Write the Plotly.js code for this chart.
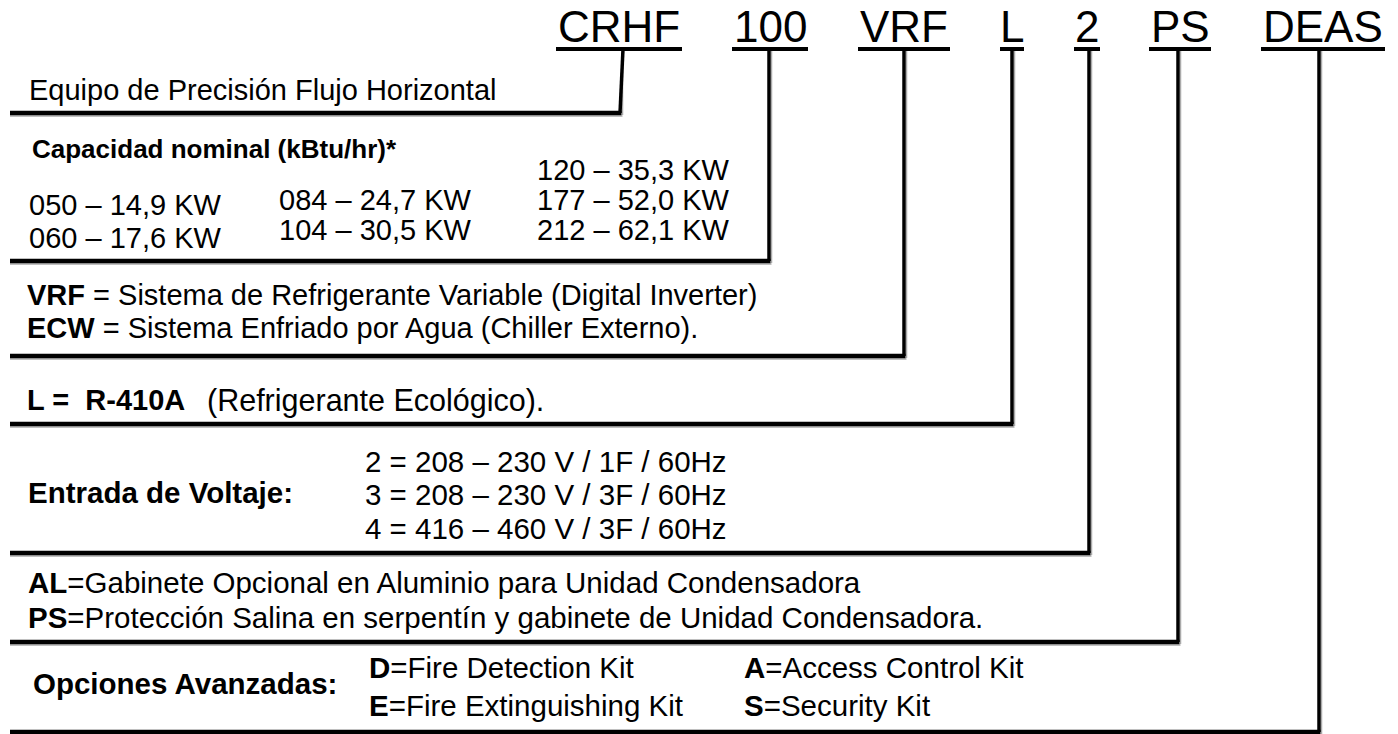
<!DOCTYPE html>
<html>
<head>
<meta charset="utf-8">
<script src="https://cdn.plot.ly/plotly-3.0.1.min.js"></script>
<style>html,body{margin:0;padding:0;background:#fff;}#chart{width:1398px;height:734px;}</style>
</head>
<body>
<div id="chart"></div>
<script>
// ---- content ----
const codes = ['CRHF', '100', 'VRF', 'L', '2', 'PS', 'DEAS'];
const familyText = ['Equipo de Precisión Flujo Horizontal'];
const capacityTitle = ['Capacidad nominal (kBtu/hr)*'];
const capacityCol1 = ['050 – 14,9 KW', '060 – 17,6 KW'];
const capacityCol2 = ['084 – 24,7 KW', '104 – 30,5 KW'];
const capacityCol3 = ['120 – 35,3 KW', '177 – 52,0 KW', '212 – 62,1 KW'];
const systemCodes = ['VRF', 'ECW'];
const systemDesc = [' = Sistema de Refrigerante Variable (Digital Inverter)', ' = Sistema Enfriado por Agua (Chiller Externo).'];
const refrigerantCode = ['L =  R-410A'];
const refrigerantDesc = ['(Refrigerante Ecológico).'];
const voltageTitle = ['Entrada de Voltaje:'];
const voltageOptions = ['2 = 208 – 230 V / 1F / 60Hz', '3 = 208 – 230 V / 3F / 60Hz', '4 = 416 – 460 V / 3F / 60Hz'];
const cabinetCodes = ['AL', 'PS'];
const cabinetDesc = ['=Gabinete Opcional en Aluminio para Unidad Condensadora', '=Protección Salina en serpentín y gabinete de Unidad Condensadora.'];
const advancedTitle = ['Opciones Avanzadas:'];
const advancedCodes = ['D', 'E', 'A', 'S'];
const advancedDesc = ['=Fire Detection Kit', '=Fire Extinguishing Kit', '=Access Control Kit', '=Security Kit'];

// ---- layout geometry (pixel space) ----
const W = 1398, H = 734;
const FONT = 'Liberation Sans, Arial, sans-serif';
const codeCenters = [619, 770, 904, 1012, 1087, 1180, 1323];
const underlineHalf = [63, 38, 46, 12, 13, 31, 62];
const stemX = [[623, 620], [769, 769], [904, 904], [1012, 1012], [1089, 1089], [1178, 1178], [1319, 1319]];
const stemBottom = [113, 261, 356, 424, 553, 642, 732];
const underlineY = 49;
const LEFT = 10;
const BODY = 29.5;

const shapes = [];
const annotations = [];
function line(x0, y0, x1, y1, w, c) {
  shapes.push({type: 'line', xref: 'x', yref: 'y', x0, y0, x1, y1, line: {color: c || '#000', width: w}});
}
function txt(x, y, text, size, anchor) {
  annotations.push({x, y, xref: 'x', yref: 'y', text, showarrow: false,
    xanchor: anchor || 'left', yanchor: 'middle', align: 'left',
    font: {family: FONT, size: size || BODY, color: '#000'}});
}

codes.forEach((c, i) => {
  txt(codeCenters[i], 26, c, 44, 'center');
  line(codeCenters[i] - underlineHalf[i], underlineY, codeCenters[i] + underlineHalf[i], underlineY, 4);
  // soft shadow
  line(stemX[i][1] + 2.5, underlineY + 2, stemX[i][1] + 2.5, stemBottom[i] + 2, 1.5, '#aaa');
  line(LEFT, stemBottom[i] + 3, stemX[i][1] + 2.5, stemBottom[i] + 3, 1.5, '#aaa');
  line(stemX[i][0], underlineY, stemX[i][1], stemBottom[i], 3.5);
  line(LEFT, stemBottom[i], stemX[i][1] + 1.5, stemBottom[i], 4.5);
});

txt(27, 90, familyText[0], 29);
txt(30, 149, '<b>' + capacityTitle[0] + '</b>', 26);
const col1Y = [205, 238], col2Y = [200, 230], col3Y = [170, 200, 230];
capacityCol1.forEach((t, i) => txt(27, col1Y[i], t, 29));
capacityCol2.forEach((t, i) => txt(277, col2Y[i], t, 29));
capacityCol3.forEach((t, i) => txt(535, col3Y[i], t, 29));

const sysY = [295, 328];
systemCodes.forEach((c, i) => txt(25, sysY[i], '<b>' + c + '</b>' + systemDesc[i], 29));

txt(25, 400, '<b>' + refrigerantCode[0] + '</b>', 29);
txt(205, 400, refrigerantDesc[0], 30.5);

txt(26, 492, '<b>' + voltageTitle[0] + '</b>');
const voltY = [461, 494, 528];
voltageOptions.forEach((t, i) => txt(363, voltY[i], t));

const cabY = [582, 617];
cabinetCodes.forEach((c, i) => txt(26, cabY[i], '<b>' + c + '</b>' + cabinetDesc[i]));

txt(31, 683, '<b>' + advancedTitle[0] + '</b>');
const advX = [367, 367, 742, 742], advY = [667, 705, 667, 705];
advancedCodes.forEach((c, i) => txt(advX[i], advY[i], '<b>' + c + '</b>' + advancedDesc[i]));

const layout = {
  width: W, height: H,
  margin: {l: 0, r: 0, t: 0, b: 0, pad: 0},
  paper_bgcolor: '#fff', plot_bgcolor: '#fff',
  xaxis: {range: [0, W], visible: false, fixedrange: true},
  yaxis: {range: [H, 0], visible: false, fixedrange: true},
  showlegend: false,
  shapes, annotations
};
Plotly.newPlot('chart', [{x: [], y: [], type: 'scatter', mode: 'markers', hoverinfo: 'skip'}], layout, {staticPlot: true, displayModeBar: false});
</script>
</body>
</html>
